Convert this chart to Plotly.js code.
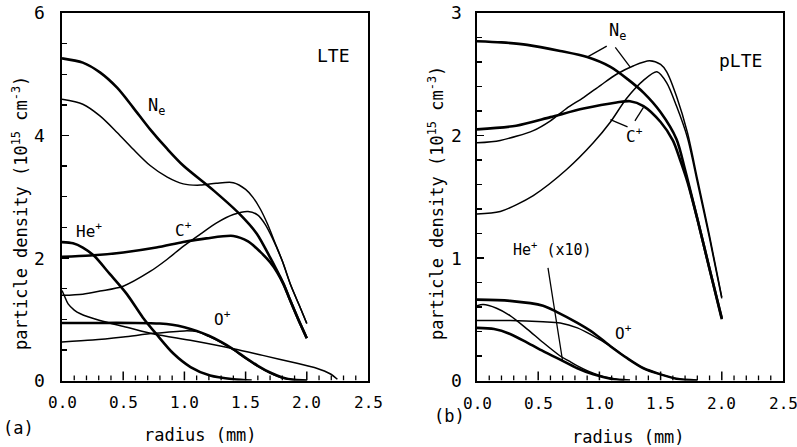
<!DOCTYPE html>
<html>
<head>
<meta charset="utf-8">
<script src="https://cdn.plot.ly/plotly-3.0.1.min.js"></script>
<style>html,body{margin:0;padding:0;background:#fff;}#chart{width:797px;height:447px;}</style>
</head>
<body>
<div id="chart"></div>
<script>
// ---------- (a) LTE panel data: radius (mm), density (1e15 cm^-3) ----------
const lteNeThickR = [0, 0.17, 0.31, 0.45, 0.58, 0.72, 0.86, 0.99, 1.24, 1.45, 1.59, 1.70, 1.75, 1.81, 1.86, 1.93, 2.0];
const lteNeThickN = [5.26, 5.19, 5.03, 4.78, 4.46, 4.10, 3.78, 3.51, 3.10, 2.72, 2.40, 2.01, 1.82, 1.58, 1.33, 1.00, 0.69];

const lteNeThinR = [0, 0.17, 0.31, 0.45, 0.58, 0.72, 0.86, 0.99, 1.13, 1.26, 1.40, 1.50, 1.56, 1.62, 1.68, 1.74, 1.80, 1.87, 1.94, 2.0];
const lteNeThinN = [4.59, 4.51, 4.32, 4.05, 3.78, 3.51, 3.32, 3.21, 3.19, 3.22, 3.23, 3.12, 2.99, 2.80, 2.55, 2.25, 1.95, 1.55, 1.22, 0.93];

const lteCThickR = [0, 0.23, 0.50, 0.77, 0.99, 1.18, 1.40, 1.52, 1.62, 1.70, 1.76, 1.81, 1.86, 1.93, 2.0];
const lteCThickN = [2.02, 2.04, 2.09, 2.17, 2.26, 2.32, 2.36, 2.27, 2.10, 1.93, 1.76, 1.57, 1.33, 1.00, 0.69];

const lteCThinR = [0, 0.17, 0.31, 0.50, 0.72, 0.86, 0.99, 1.13, 1.26, 1.40, 1.52, 1.60, 1.66, 1.72, 1.80, 1.87, 1.94, 2.0];
const lteCThinN = [1.39, 1.41, 1.46, 1.54, 1.78, 1.98, 2.19, 2.39, 2.57, 2.71, 2.76, 2.70, 2.55, 2.32, 1.95, 1.55, 1.22, 0.93];

const lteHeThickR = [0, 0.09, 0.17, 0.26, 0.39, 0.53, 0.66, 0.77, 0.91, 1.05, 1.21, 1.40, 1.55];
const lteHeThickN = [2.26, 2.24, 2.17, 2.04, 1.74, 1.41, 1.03, 0.76, 0.44, 0.22, 0.08, 0.02, 0.0];

const lteHeThinR = [0, 0.02, 0.05, 0.10, 0.15, 0.31, 0.53, 0.75, 1.07, 1.40, 1.64, 1.92, 2.08, 2.19, 2.25];
const lteHeThinN = [1.47, 1.38, 1.25, 1.15, 1.09, 0.98, 0.87, 0.76, 0.65, 0.52, 0.41, 0.28, 0.20, 0.11, 0.02];

const lteOThickR = [0, 0.3, 0.6, 0.8, 0.9, 1.0, 1.1, 1.2, 1.3, 1.4, 1.5, 1.6, 1.7, 1.8, 1.9, 2.0];
const lteOThickN = [0.94, 0.94, 0.94, 0.93, 0.91, 0.87, 0.81, 0.73, 0.63, 0.51, 0.37, 0.24, 0.13, 0.05, 0.01, 0.0];

const lteOThinR = [0, 0.25, 0.5, 0.75, 1.0, 1.1, 1.2, 1.3, 1.4, 1.5, 1.6, 1.7, 1.8, 1.9, 2.0];
const lteOThinN = [0.63, 0.66, 0.71, 0.77, 0.81, 0.80, 0.72, 0.62, 0.50, 0.36, 0.23, 0.12, 0.04, 0.01, 0.0];

// ---------- (b) pLTE panel data ----------
const plteNeThickR = [0, 0.2, 0.41, 0.68, 0.90, 1.09, 1.23, 1.36, 1.50, 1.63, 1.70, 1.80, 1.90, 2.0];
const plteNeThickN = [2.77, 2.76, 2.74, 2.69, 2.64, 2.56, 2.46, 2.35, 2.19, 1.97, 1.72, 1.32, 0.91, 0.50];

const plteCThickR = [0, 0.32, 0.60, 0.87, 1.14, 1.25, 1.36, 1.50, 1.60, 1.66, 1.72, 1.80, 1.90, 2.0];
const plteCThickN = [2.05, 2.08, 2.15, 2.22, 2.27, 2.28, 2.24, 2.11, 1.96, 1.80, 1.62, 1.32, 0.91, 0.51];

const plteNeThinR = [0, 0.19, 0.46, 0.60, 0.73, 0.87, 1.01, 1.14, 1.28, 1.41, 1.50, 1.55, 1.63, 1.72, 1.80, 1.90, 2.0];
const plteNeThinN = [1.94, 1.96, 2.04, 2.12, 2.22, 2.31, 2.41, 2.50, 2.57, 2.61, 2.58, 2.52, 2.32, 2.02, 1.65, 1.18, 0.68];

const plteCThinR = [0, 0.19, 0.46, 0.73, 0.95, 1.09, 1.22, 1.36, 1.47, 1.55, 1.63, 1.72, 1.80, 1.90, 2.0];
const plteCThinN = [1.36, 1.38, 1.51, 1.72, 1.94, 2.11, 2.30, 2.45, 2.52, 2.43, 2.24, 1.98, 1.62, 1.16, 0.67];

const plteOThickR = [0, 0.27, 0.54, 0.65, 0.82, 0.95, 1.09, 1.23, 1.36, 1.50, 1.63, 1.80];
const plteOThickN = [0.66, 0.65, 0.61, 0.56, 0.47, 0.39, 0.28, 0.18, 0.10, 0.05, 0.015, 0.0];

const plteOThinR = [0, 0.27, 0.54, 0.68, 0.82, 0.92, 1.09, 1.23, 1.36, 1.50, 1.63, 1.80];
const plteOThinN = [0.49, 0.49, 0.48, 0.47, 0.43, 0.38, 0.28, 0.18, 0.10, 0.05, 0.015, 0.0];

const plteHeThinR = [0, 0.05, 0.16, 0.27, 0.41, 0.54, 0.68, 0.75, 0.82, 0.95, 1.09, 1.20];
const plteHeThinN = [0.61, 0.62, 0.59, 0.53, 0.42, 0.31, 0.20, 0.16, 0.12, 0.06, 0.02, 0.0];

const plteHeThickR = [0, 0.14, 0.27, 0.41, 0.54, 0.68, 0.82, 0.95, 1.09, 1.25];
const plteHeThickN = [0.43, 0.42, 0.38, 0.31, 0.24, 0.17, 0.10, 0.05, 0.015, 0.0];

// ---------- tick labels ----------
const xTickVals = [0, 0.5, 1.0, 1.5, 2.0, 2.5];
const xTickText = ['0.0', '0.5', '1.0', '1.5', '2.0', '2.5'];
const yTickValsA = [0, 2, 4, 6];
const yTickTextA = ['0', '2', '4', '6'];
const yTickValsB = [0, 1, 2, 3];
const yTickTextB = ['0', '1', '2', '3'];

// ---------- build ----------
const THICK = 2.6, THIN = 1.5;
function tr(x, y, w, xa, ya) {
  return {x: x, y: y, type: 'scatter', mode: 'lines', xaxis: xa, yaxis: ya,
          line: {color: '#000', width: w, shape: 'spline', smoothing: 0.8},
          hoverinfo: 'skip'};
}
const data = [
  tr(lteNeThickR, lteNeThickN, THICK, 'x', 'y'),
  tr(lteNeThinR, lteNeThinN, THIN, 'x', 'y'),
  tr(lteCThickR, lteCThickN, THICK, 'x', 'y'),
  tr(lteCThinR, lteCThinN, THIN, 'x', 'y'),
  tr(lteHeThickR, lteHeThickN, THICK, 'x', 'y'),
  tr(lteHeThinR, lteHeThinN, THIN, 'x', 'y'),
  tr(lteOThickR, lteOThickN, THICK, 'x', 'y'),
  tr(lteOThinR, lteOThinN, THIN, 'x', 'y'),
  tr(plteNeThickR, plteNeThickN, THICK, 'x2', 'y2'),
  tr(plteCThickR, plteCThickN, THICK, 'x2', 'y2'),
  tr(plteNeThinR, plteNeThinN, THIN, 'x2', 'y2'),
  tr(plteCThinR, plteCThinN, THIN, 'x2', 'y2'),
  tr(plteOThickR, plteOThickN, THICK, 'x2', 'y2'),
  tr(plteOThinR, plteOThinN, THIN, 'x2', 'y2'),
  tr(plteHeThinR, plteHeThinN, THIN, 'x2', 'y2'),
  tr(plteHeThickR, plteHeThickN, THICK, 'x2', 'y2')
];

const FONT = 'DejaVu Sans Mono, monospace';
const W = 797, H = 447;
function px(v) { return v / W; }
function py(v) { return 1 - v / H; }

// x axes: frame only; the inward tick marks are drawn as pixel-sized shapes below
function xAxis(domain, anchor) {
  return {domain: domain, anchor: anchor, range: [0, 2.5], fixedrange: true,
          showticklabels: false, ticks: '',
          showline: true, linewidth: 2, linecolor: '#000', mirror: true,
          showgrid: false, zeroline: false};
}
function yAxis(domain, anchor, range, dtick, mdtick) {
  return {domain: domain, anchor: anchor, range: range, fixedrange: true,
          tickmode: 'linear', dtick: dtick, tick0: 0, showticklabels: false,
          ticks: 'inside', ticklen: 7, tickwidth: 1.5, tickcolor: '#000',
          showline: true, linewidth: 2, linecolor: '#000', mirror: true,
          showgrid: false, zeroline: false,
          minor: {ticks: 'inside', dtick: mdtick, ticklen: 5, tickwidth: 1.3, tickcolor: '#000'}};
}

const yDom = [py(380.5), py(13)];
function lab(text, x, y, xr, yr, size) {
  return {text: text, x: x, y: y, xref: xr, yref: yr, showarrow: false,
          font: {family: FONT, size: size || 16, color: '#000'}, xanchor: 'center', yanchor: 'middle'};
}
function pap(text, x, y, size, angle) {
  return {text: text, x: px(x), y: py(y), xref: 'paper', yref: 'paper', showarrow: false,
          textangle: angle || 0, font: {family: FONT, size: size, color: '#000'},
          xanchor: 'center', yanchor: 'middle'};
}
const ytitle = 'particle density (10<sup>15</sup> cm<sup>-3</sup>)';

const annotations = [
  lab('LTE', 2.22, 5.3, 'x', 'y', 18),
  lab('N<sub>e</sub>', 0.77, 4.47, 'x', 'y', 17),
  lab('He<sup>+</sup>', 0.22, 2.45, 'x', 'y', 16),
  lab('C<sup>+</sup>', 0.99, 2.47, 'x', 'y', 16),
  lab('O<sup>+</sup>', 1.31, 1.01, 'x', 'y', 16),
  lab('pLTE', 2.15, 2.61, 'x2', 'y2', 18),
  lab('N<sub>e</sub>', 1.15, 2.85, 'x2', 'y2', 17),
  lab('C<sup>+</sup>', 1.29, 2.0, 'x2', 'y2', 16),
  lab('He<sup>+</sup> (x10)', 0.62, 1.07, 'x2', 'y2', 15),
  lab('O<sup>+</sup>', 1.20, 0.39, 'x2', 'y2', 16),
  pap('radius (mm)', 200, 435, 17),
  pap('radius (mm)', 628, 437, 17),
  pap(ytitle, 20, 213, 17, -90),
  pap(ytitle, 436, 203, 17, -90),
  pap('(a)', 18, 428, 17),
  pap('(b)', 449, 416, 17)
];
// tick labels, positioned on the axes' own scales
xTickVals.forEach(function (v, i) {
  annotations.push({text: xTickText[i], x: v, y: py(402), xref: 'x', yref: 'paper', showarrow: false,
    font: {family: FONT, size: 16, color: '#000'}, xanchor: 'center', yanchor: 'middle'});
  annotations.push({text: xTickText[i], x: v, y: py(403), xref: 'x2', yref: 'paper', showarrow: false,
    font: {family: FONT, size: 16, color: '#000'}, xanchor: 'center', yanchor: 'middle'});
});
yTickValsA.forEach(function (v, i) {
  annotations.push({text: yTickTextA[i], x: px(47), y: v, xref: 'paper', yref: 'y', showarrow: false,
    font: {family: FONT, size: 18, color: '#000'}, xanchor: 'right', yanchor: 'middle'});
});
yTickValsB.forEach(function (v, i) {
  annotations.push({text: yTickTextB[i], x: px(464), y: v, xref: 'paper', yref: 'y2', showarrow: false,
    font: {family: FONT, size: 18, color: '#000'}, xanchor: 'right', yanchor: 'middle'});
});

function seg(x0, y0, x1, y1) {
  return {type: 'line', xref: 'x2', yref: 'y2', x0: x0, y0: y0, x1: x1, y1: y1,
          line: {color: '#000', width: 1.3}};
}
const shapes = [
  seg(1.06, 2.73, 0.90, 2.64),
  seg(1.13, 2.72, 1.25, 2.56),
  seg(1.23, 2.07, 1.09, 2.13),
  seg(1.29, 2.12, 1.36, 2.23),
  seg(0.58, 0.92, 0.70, 0.155)
];
// inward x tick marks every 0.1 mm (longer at each 0.5 mm), on both panels
for (let k = 1; k < 25; k++) {
  const v = k / 10;
  const len = (k % 5 === 0) ? 9 : 5;
  [['x', 'y'], ['x2', 'y2']].forEach(function (ax) {
    shapes.push({type: 'line', xref: ax[0], yref: ax[1], x0: v, x1: v,
                 ysizemode: 'pixel', yanchor: 0, y0: 0, y1: len,
                 line: {color: '#000', width: (k % 5 === 0) ? 1.5 : 1.3}});
  });
}

const layout = {
  width: W, height: H, margin: {l: 0, r: 0, t: 0, b: 0}, showlegend: false,
  paper_bgcolor: '#fff', plot_bgcolor: '#fff',
  font: {family: FONT, color: '#000'},
  xaxis: xAxis([px(62), px(368)], 'y'),
  yaxis: yAxis(yDom, 'x', [0, 6], 2, 0.5),
  xaxis2: xAxis([px(477), px(783)], 'y2'),
  yaxis2: yAxis(yDom, 'x2', [0, 3], 1, 0.2),
  annotations: annotations,
  shapes: shapes
};

Plotly.newPlot('chart', data, layout, {staticPlot: true, displayModeBar: false});
</script>
</body>
</html>
